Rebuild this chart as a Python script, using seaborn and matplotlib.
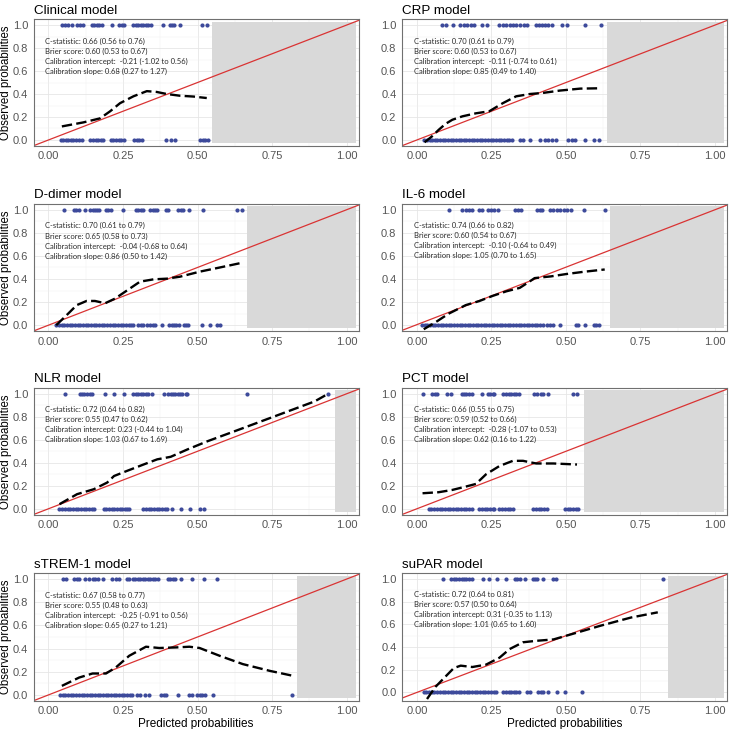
import matplotlib
matplotlib.use("Agg")
import matplotlib.pyplot as plt
import seaborn as sns
import pandas as pd
from matplotlib.patches import Rectangle
from matplotlib.ticker import FixedLocator, FormatStrFormatter

# ---------------- data ----------------
titles = ["Clinical model", "CRP model", "D-dimer model", "IL-6 model",
          "NLR model", "PCT model", "sTREM-1 model", "suPAR model"]

c_stat = ["0.66 (0.56 to 0.76)", "0.70 (0.61 to 0.79)", "0.70 (0.61 to 0.79)", "0.74 (0.66 to 0.82)",
          "0.72 (0.64 to 0.82)", "0.66 (0.55 to 0.75)", "0.67 (0.58 to 0.77)", "0.72 (0.64 to 0.81)"]
brier = ["0.60 (0.53 to 0.67)", "0.60 (0.53 to 0.67)", "0.65 (0.58 to 0.73)", "0.60 (0.54 to 0.67)",
         "0.55 (0.47 to 0.62)", "0.59 (0.52 to 0.66)", "0.55 (0.48 to 0.63)", "0.57 (0.50 to 0.64)"]
cal_int = [" -0.21 (-1.02 to 0.56)", " -0.11 (-0.74 to 0.61)", " -0.04 (-0.68 to 0.64)", " -0.10 (-0.64 to 0.49)",
           "0.23 (-0.44 to 1.04)", " -0.28 (-1.07 to 0.53)", " -0.25 (-0.91 to 0.56)", "0.31 (-0.35 to 1.13)"]
cal_slope = ["0.68 (0.27 to 1.27)", "0.85 (0.49 to 1.40)", "0.86 (0.50 to 1.42)", "1.05 (0.70 to 1.65)",
             "1.03 (0.67 to 1.69)", "0.62 (0.16 to 1.22)", "0.65 (0.27 to 1.21)", "1.01 (0.65 to 1.60)"]

# upper limit of predicted probabilities (start of grey area)
cutoffs = [0.550, 0.638, 0.667, 0.647, 0.960, 0.562, 0.832, 0.842]

# predicted probabilities of patients with outcome (y = 1) and without (y = 0)
clin_pos = [0.045, 0.056, 0.067, 0.078, 0.097, 0.106, 0.115, 0.145, 0.154, 0.162, 0.171, 0.179, 0.212, 0.238,
            0.246, 0.254, 0.285, 0.294, 0.302, 0.311, 0.318, 0.327, 0.335, 0.344, 0.385, 0.408, 0.415, 0.421,
            0.441, 0.514, 0.531]
clin_neg = [0.041, 0.050, 0.059, 0.067, 0.075, 0.084, 0.093, 0.102, 0.111, 0.140, 0.149, 0.158, 0.166, 0.175,
            0.184, 0.209, 0.218, 0.227, 0.236, 0.245, 0.254, 0.287, 0.296, 0.305, 0.314, 0.394, 0.410, 0.425,
            0.508, 0.517, 0.526, 0.535]
crp_pos = [0.085, 0.096, 0.121, 0.144, 0.158, 0.169, 0.181, 0.192, 0.220, 0.234, 0.277, 0.288, 0.299, 0.311,
           0.322, 0.333, 0.347, 0.358, 0.371, 0.401, 0.410, 0.420, 0.429, 0.441, 0.452, 0.486, 0.503, 0.565, 0.619]
crp_neg = [0.025, 0.034, 0.043, 0.051, 0.060, 0.069, 0.078, 0.087, 0.095, 0.104, 0.113, 0.122, 0.131, 0.140,
           0.148, 0.157, 0.166, 0.175, 0.184, 0.193, 0.202, 0.211, 0.220, 0.229, 0.238, 0.247, 0.256, 0.265,
           0.274, 0.283, 0.292, 0.301, 0.310, 0.318, 0.345, 0.356, 0.379, 0.412, 0.429, 0.441, 0.452, 0.467,
           0.508, 0.520, 0.531, 0.565, 0.593, 0.610]
ddim_pos = [0.053, 0.086, 0.093, 0.101, 0.123, 0.140, 0.149, 0.156, 0.164, 0.171, 0.193, 0.201, 0.209, 0.249,
            0.294, 0.302, 0.309, 0.316, 0.341, 0.350, 0.358, 0.365, 0.394, 0.402, 0.436, 0.444, 0.450, 0.473,
            0.517, 0.634, 0.650]
ddim_neg = [0.026, 0.035, 0.044, 0.053, 0.062, 0.071, 0.080, 0.089, 0.098, 0.107, 0.116, 0.125, 0.134, 0.143,
            0.152, 0.161, 0.170, 0.179, 0.188, 0.197, 0.206, 0.215, 0.224, 0.233, 0.242, 0.251, 0.260, 0.269,
            0.278, 0.285, 0.302, 0.309, 0.318, 0.330, 0.339, 0.350, 0.358, 0.380, 0.406, 0.413, 0.421, 0.428,
            0.439, 0.453, 0.461, 0.469, 0.514, 0.542, 0.564, 0.575]
il6_pos = [0.107, 0.150, 0.164, 0.175, 0.186, 0.209, 0.220, 0.237, 0.249, 0.260, 0.271, 0.328, 0.339, 0.350,
           0.403, 0.412, 0.421, 0.446, 0.458, 0.469, 0.480, 0.494, 0.505, 0.516, 0.559, 0.631]
il6_neg = [0.017, 0.026, 0.035, 0.044, 0.053, 0.062, 0.071, 0.080, 0.089, 0.098, 0.107, 0.116, 0.125, 0.134,
           0.143, 0.152, 0.161, 0.170, 0.179, 0.188, 0.197, 0.206, 0.215, 0.224, 0.233, 0.242, 0.251, 0.260,
           0.269, 0.278, 0.287, 0.296, 0.305, 0.314, 0.323, 0.332, 0.341, 0.350, 0.359, 0.368, 0.377, 0.386,
           0.395, 0.404, 0.414, 0.424, 0.435, 0.446, 0.455, 0.480, 0.534, 0.542, 0.565, 0.593, 0.602, 0.610]
nlr_pos = [0.056, 0.107, 0.112, 0.118, 0.131, 0.138, 0.146, 0.191, 0.219, 0.255, 0.284, 0.292, 0.300, 0.309,
           0.318, 0.327, 0.334, 0.348, 0.388, 0.401, 0.410, 0.418, 0.426, 0.434, 0.442, 0.449, 0.461, 0.466,
           0.666, 0.938]
nlr_neg = [0.037, 0.046, 0.055, 0.064, 0.073, 0.082, 0.091, 0.100, 0.109, 0.118, 0.127, 0.136, 0.145, 0.152,
           0.185, 0.194, 0.203, 0.212, 0.221, 0.230, 0.239, 0.248, 0.257, 0.264, 0.270, 0.318, 0.327, 0.336,
           0.345, 0.354, 0.363, 0.372, 0.381, 0.390, 0.399, 0.416, 0.444, 0.475, 0.508, 0.522]
pct_pos = [0.019, 0.051, 0.060, 0.068, 0.102, 0.113, 0.150, 0.158, 0.166, 0.175, 0.184, 0.218, 0.237, 0.245,
           0.254, 0.260, 0.290, 0.299, 0.308, 0.316, 0.325, 0.333, 0.342, 0.392, 0.403, 0.415, 0.424, 0.441,
           0.522, 0.537]
pct_neg = [0.040, 0.049, 0.058, 0.067, 0.076, 0.085, 0.094, 0.103, 0.112, 0.121, 0.130, 0.139, 0.148, 0.157,
           0.166, 0.175, 0.184, 0.209, 0.218, 0.227, 0.236, 0.245, 0.254, 0.260, 0.277, 0.286, 0.295, 0.304,
           0.313, 0.322, 0.390, 0.399, 0.408, 0.417, 0.426, 0.435, 0.497, 0.506, 0.515, 0.524, 0.533, 0.539]
strem_pos = [0.050, 0.058, 0.087, 0.095, 0.103, 0.121, 0.135, 0.148, 0.157, 0.166, 0.182, 0.213, 0.226, 0.235,
             0.263, 0.271, 0.283, 0.291, 0.300, 0.308, 0.316, 0.325, 0.334, 0.342, 0.350, 0.359, 0.368, 0.401,
             0.409, 0.417, 0.426, 0.443, 0.482, 0.521, 0.566]
strem_neg = [0.039, 0.048, 0.057, 0.066, 0.075, 0.084, 0.093, 0.102, 0.111, 0.120, 0.129, 0.138, 0.147, 0.156,
             0.165, 0.174, 0.183, 0.192, 0.201, 0.210, 0.219, 0.228, 0.237, 0.246, 0.255, 0.264, 0.273, 0.280,
             0.297, 0.308, 0.325, 0.336, 0.379, 0.387, 0.395, 0.434, 0.473, 0.482, 0.499, 0.508, 0.516, 0.524,
             0.553, 0.816]
supar_pos = [0.087, 0.116, 0.124, 0.132, 0.141, 0.150, 0.158, 0.166, 0.175, 0.184, 0.223, 0.243, 0.268, 0.299,
             0.328, 0.336, 0.345, 0.362, 0.388, 0.395, 0.403, 0.424, 0.458, 0.467, 0.825]
supar_neg = [0.023, 0.032, 0.041, 0.050, 0.059, 0.068, 0.077, 0.086, 0.095, 0.104, 0.113, 0.122, 0.131, 0.140,
             0.149, 0.158, 0.167, 0.176, 0.185, 0.194, 0.203, 0.212, 0.221, 0.230, 0.239, 0.248, 0.257, 0.266,
             0.290, 0.299, 0.308, 0.317, 0.326, 0.334, 0.342, 0.369, 0.381, 0.407, 0.415, 0.424, 0.441, 0.469,
             0.497, 0.554]

# smoothed calibration curves
clin_cx = [0.045, 0.117, 0.173, 0.207, 0.240, 0.285, 0.330, 0.363, 0.397, 0.441, 0.486, 0.531]
clin_cy = [0.118, 0.153, 0.188, 0.250, 0.320, 0.380, 0.425, 0.418, 0.400, 0.385, 0.378, 0.365]
crp_cx = [0.026, 0.050, 0.073, 0.096, 0.119, 0.153, 0.198, 0.243, 0.288, 0.333, 0.379, 0.424, 0.480, 0.548, 0.616]
crp_cy = [-0.020, 0.030, 0.088, 0.140, 0.176, 0.206, 0.232, 0.250, 0.320, 0.380, 0.400, 0.410, 0.430, 0.447, 0.450]
ddim_cx = [0.026, 0.061, 0.095, 0.128, 0.156, 0.190, 0.223, 0.263, 0.307, 0.352, 0.397, 0.441, 0.508, 0.575, 0.648]
ddim_cy = [0.000, 0.087, 0.174, 0.210, 0.210, 0.190, 0.230, 0.300, 0.377, 0.397, 0.403, 0.420, 0.464, 0.500, 0.540]
il6_cx = [0.023, 0.062, 0.107, 0.164, 0.209, 0.254, 0.300, 0.345, 0.375, 0.395, 0.450, 0.500, 0.560, 0.630]
il6_cy = [-0.040, 0.020, 0.096, 0.170, 0.205, 0.250, 0.290, 0.320, 0.370, 0.405, 0.420, 0.440, 0.460, 0.480]
nlr_cx = [0.037, 0.096, 0.152, 0.197, 0.220, 0.264, 0.320, 0.365, 0.410, 0.466, 0.534, 0.624, 0.713, 0.803, 0.893, 0.938]
nlr_cy = [0.040, 0.127, 0.170, 0.228, 0.285, 0.330, 0.386, 0.430, 0.452, 0.516, 0.588, 0.674, 0.760, 0.847, 0.934, 1.000]
pct_cx = [0.019, 0.073, 0.119, 0.164, 0.198, 0.232, 0.277, 0.322, 0.356, 0.400, 0.458, 0.537]
pct_cy = [0.135, 0.144, 0.164, 0.193, 0.216, 0.300, 0.372, 0.417, 0.417, 0.394, 0.394, 0.385]
strem_cx = [0.045, 0.103, 0.148, 0.193, 0.226, 0.271, 0.327, 0.372, 0.428, 0.473, 0.507, 0.574, 0.652, 0.742, 0.820]
strem_cy = [0.078, 0.150, 0.185, 0.185, 0.237, 0.338, 0.416, 0.405, 0.410, 0.416, 0.405, 0.338, 0.266, 0.208, 0.165]
supar_cx = [0.034, 0.062, 0.096, 0.124, 0.147, 0.186, 0.232, 0.277, 0.311, 0.356, 0.401, 0.458, 0.525, 0.616, 0.718, 0.808]
supar_cy = [-0.058, 0.048, 0.140, 0.215, 0.236, 0.224, 0.245, 0.306, 0.382, 0.442, 0.455, 0.467, 0.518, 0.588, 0.660, 0.706]

pos_all = [clin_pos, crp_pos, ddim_pos, il6_pos, nlr_pos, pct_pos, strem_pos, supar_pos]
neg_all = [clin_neg, crp_neg, ddim_neg, il6_neg, nlr_neg, pct_neg, strem_neg, supar_neg]
cx_all = [clin_cx, crp_cx, ddim_cx, il6_cx, nlr_cx, pct_cx, strem_cx, supar_cx]
cy_all = [clin_cy, crp_cy, ddim_cy, il6_cy, nlr_cy, pct_cy, strem_cy, supar_cy]

# ---------------- style / layout ----------------
sns.set_theme(style="whitegrid")
plt.rcParams["font.family"] = ["Liberation Sans", "DejaVu Sans"]

fig = plt.figure(figsize=(7.29, 7.29), dpi=100)
col_left = [0.046, 0.5514]
row_bottom = [0.8001, 0.5460, 0.2942, 0.0388]
row_height = [0.1734, 0.1742, 0.1735, 0.1748]
width = 0.4458

point_color = "#3d4a9b"

for i, title in enumerate(titles):
    r, c = divmod(i, 2)
    ax = fig.add_axes([col_left[c], row_bottom[r], width, row_height[r]])
    ax.set_facecolor("white")

    lo = min(-0.05, min(cy_all[i]) - 0.015)
    ax.set_xlim(-0.05, 1.04)
    ax.set_ylim(lo, 1.05)

    ax.xaxis.set_major_locator(FixedLocator([0, 0.25, 0.5, 0.75, 1.0]))
    ax.xaxis.set_minor_locator(FixedLocator([0.125, 0.375, 0.625, 0.875]))
    ax.yaxis.set_major_locator(FixedLocator([0, 0.2, 0.4, 0.6, 0.8, 1.0]))
    ax.yaxis.set_minor_locator(FixedLocator([0.1, 0.3, 0.5, 0.7, 0.9]))
    ax.xaxis.set_major_formatter(FormatStrFormatter("%.2f"))
    ax.yaxis.set_major_formatter(FormatStrFormatter("%.1f"))
    ax.grid(which="major", color="#e6e6e6", lw=0.6)
    ax.grid(which="minor", color="#f2f2f2", lw=0.35)
    ax.set_axisbelow(True)

    # grey area beyond the largest prediction
    ax.add_patch(Rectangle((cutoffs[i], lo + 0.025), 1.03 - cutoffs[i], 1.03 - (lo + 0.025),
                           facecolor="#d9d9d9", edgecolor="none", zorder=1))

    # ideal line
    ax.axline((0, 0), slope=1, color="#d93333", lw=0.9, zorder=2)

    # observed outcomes
    df = pd.DataFrame({"pred": pos_all[i] + neg_all[i],
                       "obs": [1.0] * len(pos_all[i]) + [0.0] * len(neg_all[i])})
    sns.scatterplot(data=df, x="pred", y="obs", ax=ax, color=point_color, s=9,
                    linewidth=0, zorder=3)

    # smoothed calibration curve
    cdf = pd.DataFrame({"x": cx_all[i], "y": cy_all[i]})
    sns.lineplot(data=cdf, x="x", y="y", ax=ax, color="black", lw=1.7, zorder=4,
                 estimator=None, sort=False)
    ax.lines[-1].set_dashes([4.4, 1.8])

    # statistics text
    lines = ["C-statistic: " + c_stat[i], "Brier score: " + brier[i],
             "Calibration intercept: " + cal_int[i], "Calibration slope: " + cal_slope[i]]
    for k, txt in enumerate(lines):
        ax.text(-0.01, 0.86 - 0.087 * k, txt, fontsize=5.5, family=["Lato", "DejaVu Sans"],
                color="#2b2b2b", va="center", ha="left", zorder=5)

    for sp in ax.spines.values():
        sp.set_visible(True)
        sp.set_color("#707070")
        sp.set_linewidth(0.8)
    ax.tick_params(axis="both", which="major", length=2.5, width=0.6, color="#555555",
                   labelsize=8, labelcolor="#555555", pad=1.5)
    ax.tick_params(axis="both", which="minor", length=0)

    ax.set_title(title, loc="left", fontsize=9.6, pad=4, color="black")
    ax.set_ylabel("Observed probabilities" if c == 0 else "", fontsize=8.3, labelpad=0.5, color="black")
    ax.set_xlabel("Predicted probabilities" if r == 3 else "", fontsize=8.5, labelpad=1, color="black")

fig.savefig("out.png", dpi=100)
